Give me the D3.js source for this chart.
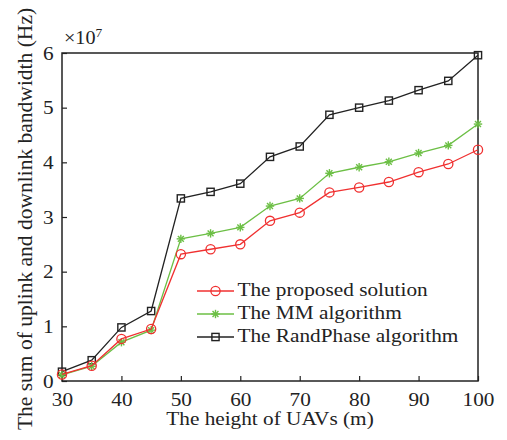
<!DOCTYPE html>
<html><head><meta charset="utf-8">
<script src="https://cdn.jsdelivr.net/npm/d3@7"></script>
<style>body{margin:0;background:#fff}svg{display:block}text{font-family:"Liberation Serif","Times New Roman",serif;fill:#222}</style>
</head><body><svg id="c" width="507" height="440"></svg>
<script>
const heights = [30,35,40,45,50,55,60,65,70,75,80,85,90,95,100];
const proposed = [0.12,0.28,0.77,0.95,2.32,2.41,2.50,2.93,3.08,3.45,3.54,3.64,3.82,3.97,4.23];
const mm = [0.11,0.27,0.71,0.93,2.60,2.70,2.81,3.20,3.34,3.80,3.91,4.01,4.17,4.31,4.70];
const randPhase = [0.17,0.38,0.98,1.28,3.34,3.46,3.61,4.10,4.29,4.87,5.00,5.13,5.32,5.49,5.96];
const xTicks = [30,40,50,60,70,80,90,100];
const yTicks = [0,1,2,3,4,5,6];
const seriesNames = ["The proposed solution","The MM algorithm","The RandPhase algorithm"];
const colors = ["#f03030","#6cbf45","#222222"];

const SX = 1.12; // horizontal glyph stretch seen in the reference
const svg = d3.select("#c");
const L=62,R=478,T=53,B=381;
const x = d3.scaleLinear().domain([30,100]).range([L,R]);
const y = d3.scaleLinear().domain([0,6]).range([B,T]);

const ax = svg.append("g").attr("transform",`translate(0,${B})`)
  .call(d3.axisBottom(x).tickValues(xTicks).tickFormat(d3.format("d")).tickSizeInner(-5).tickSizeOuter(0));
const ay = svg.append("g").attr("transform",`translate(${L},0)`)
  .call(d3.axisLeft(y).tickValues(yTicks).tickFormat(d3.format("d")).tickSizeInner(-5).tickSizeOuter(0));
[ax,ay].forEach(g=>{g.select(".domain").remove();g.selectAll("line").attr("stroke","#222").attr("stroke-width",1.2);
  g.selectAll("text").style("font-family","Liberation Serif").style("font-size","19px").attr("fill","#222");});
ax.selectAll("text").attr("y",25).attr("dy",0).attr("transform",`scale(${SX},1)`);
ay.selectAll("text").attr("x",-8.5/SX).attr("dy","0.33em").attr("transform",`scale(${SX},1)`);
svg.append("rect").attr("x",L).attr("y",T).attr("width",R-L).attr("height",B-T)
  .attr("fill","none").attr("stroke","#222").attr("stroke-width",1.5);

const all=[proposed,mm,randPhase];
const line = d3.line().x((d,i)=>x(heights[i])).y(d=>y(d));
function marker(g,k,cx,cy){
  const c=colors[k];
  if(k===0) g.append("circle").attr("cx",cx).attr("cy",cy).attr("r",4.6).attr("fill","none").attr("stroke",c).attr("stroke-width",1.3);
  else if(k===2) g.append("rect").attr("x",cx-3.6).attr("y",cy-3.6).attr("width",7.2).attr("height",7.2).attr("fill","none").attr("stroke",c).attr("stroke-width",1.4);
  else { const r=4.2; for(let a=0;a<4;a++){const t=a*Math.PI/4;
    g.append("line").attr("x1",cx-r*Math.cos(t)).attr("y1",cy-r*Math.sin(t)).attr("x2",cx+r*Math.cos(t)).attr("y2",cy+r*Math.sin(t)).attr("stroke",c).attr("stroke-width",1.4);} }
}
[2,1,0].forEach(k=>{
  const g=svg.append("g");
  g.append("path").datum(all[k]).attr("d",line).attr("fill","none").attr("stroke",colors[k]).attr("stroke-width",1.3);
  all[k].forEach((v,i)=>marker(g,k,x(heights[i]),y(v)));
});

function stext(px,py,size){
  return svg.append("text").attr("transform",`translate(${px},${py}) scale(${SX},1)`).style("font-size",size+"px");
}
// legend
const lg=svg.append("g");
const ly=[291,314,337];
seriesNames.forEach((n,k)=>{
  lg.append("line").attr("x1",197).attr("x2",234).attr("y1",ly[k]).attr("y2",ly[k]).attr("stroke",colors[k]).attr("stroke-width",1.3);
  marker(lg,k,215.5,ly[k]);
  stext(237.5,ly[k]+5,19).text(n);
});

const m=stext(64,43.5,18).text("×10");
m.append("tspan").attr("dy",-7).style("font-size","12px").text("7");
stext((L+R)/2,425,19).attr("text-anchor","middle").text("The height of UAVs (m)");
svg.append("text").attr("transform",`translate(32,219) rotate(-90)`).attr("text-anchor","middle").style("font-size","21.5px").text("The sum of uplink and downlink bandwidth (Hz)");
</script></body></html>
